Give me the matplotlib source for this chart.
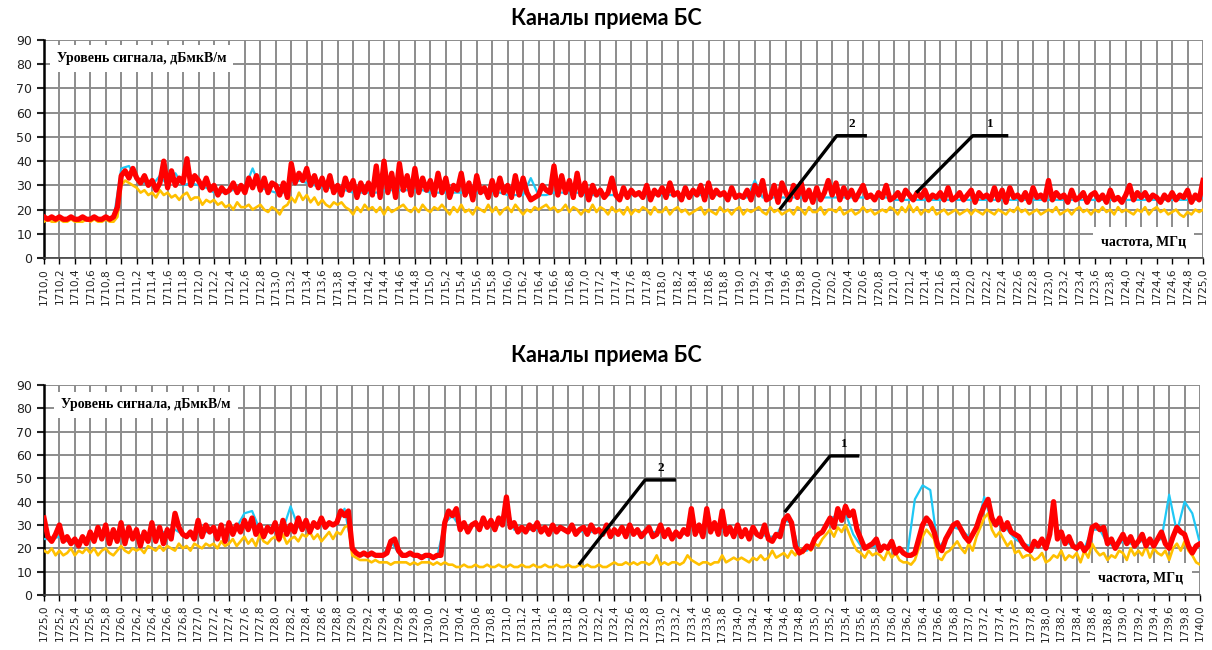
import numpy as np
import matplotlib
matplotlib.use("Agg")
import matplotlib.pyplot as plt

# Signal levels, dBuV/m
# red & yellow sampled every 0.05 MHz, cyan every 0.1 MHz

red_top = [
    17, 16, 17, 16, 17, 16, 16, 17, 16, 16, 17, 16, 16, 17, 16, 16, 17, 16, 17, 21,
    34, 36, 33, 37, 33, 31, 34, 30, 32, 28, 31, 40, 29, 36, 30, 33, 31, 41, 30, 34,
    32, 29, 33, 28, 30, 26, 29, 27, 28, 31, 27, 30, 27, 33, 29, 34, 28, 33, 27, 31,
    30, 26, 31, 25, 39, 31, 35, 32, 37, 30, 34, 29, 33, 28, 34, 27, 30, 26, 33, 28,
    32, 25, 31, 27, 31, 26, 38, 25, 40, 27, 35, 25, 39, 28, 34, 26, 37, 27, 33, 28,
    32, 26, 35, 27, 33, 25, 30, 28, 35, 26, 31, 24, 34, 27, 29, 25, 32, 26, 33, 27,
    30, 25, 34, 26, 33, 27, 24, 25, 26, 30, 28, 27, 38, 26, 34, 27, 32, 25, 35, 26,
    31, 24, 30, 26, 28, 25, 27, 33, 26, 24, 29, 25, 28, 26, 27, 25, 30, 24, 28, 26,
    29, 25, 31, 26, 27, 24, 29, 25, 28, 26, 30, 24, 31, 25, 28, 26, 27, 24, 29, 25,
    26, 25, 28, 24, 30, 26, 32, 24, 25, 30, 23, 31, 27, 24, 30, 25, 31, 24, 28, 23,
    29, 24, 27, 32, 26, 31, 24, 29, 25, 28, 24, 27, 30, 25, 26, 24, 27, 25, 30, 24,
    25, 27, 24, 28, 26, 24, 27, 25, 28, 24, 26, 25, 27, 24, 29, 24, 25, 27, 24, 26,
    28, 23, 27, 25, 26, 24, 29, 24, 28, 23, 29, 25, 26, 24, 27, 23, 29, 25, 26, 24,
    32, 24, 27, 25, 26, 23, 28, 24, 25, 27, 23, 26, 27, 24, 26, 23, 28, 24, 25, 23,
    26, 30, 24, 27, 25, 27, 24, 26, 25, 23, 26, 24, 27, 24, 26, 25, 28, 23, 26, 24,
    32,
]

yellow_top = [
    15, 16, 15, 15, 16, 15, 15, 16, 15, 15, 15, 16, 15, 16, 15, 15, 16, 15, 15, 17,
    30, 32, 31, 30, 29, 27, 28, 26, 27, 25, 28, 26, 27, 25, 26, 24, 26, 27, 24, 25,
    25, 22, 24, 23, 24, 22, 23, 21, 22, 20, 23, 21, 21, 22, 20, 21, 22, 20, 19, 21,
    20, 18, 21, 22, 25, 23, 27, 24, 26, 23, 25, 22, 24, 22, 21, 23, 22, 23, 21, 20,
    18, 21, 19, 22, 20, 21, 19, 21, 18, 21, 19, 20, 21, 22, 20, 19, 21, 19, 22, 20,
    19, 21, 20, 22, 20, 18, 21, 19, 22, 19, 20, 18, 21, 20, 19, 22, 19, 21, 18, 20,
    21, 19, 22, 20, 18, 20, 19, 21, 20, 21, 22, 20, 21, 19, 20, 22, 19, 21, 20, 18,
    20, 19, 22, 19, 21, 20, 18, 21, 19, 20, 18, 21, 18, 20, 19, 21, 20, 18, 21, 19,
    19, 21, 18, 20, 21, 19, 20, 18, 19, 20, 21, 18, 20, 19, 18, 21, 19, 20, 18, 20,
    21, 18, 20, 19, 20, 21, 19, 18, 21, 19, 20, 18, 19, 20, 18, 21, 20, 18, 21, 19,
    19, 21, 18, 20, 20, 19, 21, 18, 19, 20, 18, 19, 21, 19, 20, 18, 19, 20, 19, 21,
    20, 18, 21, 19, 22, 19, 21, 18, 20, 19, 21, 18, 19, 20, 18, 19, 20, 18, 19, 20,
    18, 20, 19, 18, 20, 19, 18, 20, 19, 18, 20, 19, 21, 19, 20, 18, 19, 20, 18, 19,
    20, 19, 21, 18, 19, 20, 18, 20, 21, 19, 20, 18, 20, 19, 21, 19, 20, 18, 21, 19,
    20, 19, 18, 20, 19, 21, 18, 20, 21, 19, 20, 18, 19, 20, 18, 17, 19, 18, 20, 19,
    20,
]

cyan_top = [
    16, 16, 16, 16, 16, 16, 16, 16, 16, 16,
    37, 38, 32, 31, 30, 34, 30, 35, 30, 31,
    30, 29, 27, 27, 28, 28, 29, 37, 29, 28,
    27, 27, 31, 32, 31, 30, 29, 29, 28, 28,
    27, 27, 27, 27, 28, 28, 28, 28, 28, 28,
    27, 27, 27, 27, 27, 27, 27, 27, 27, 27,
    26, 26, 26, 33, 26, 26, 27, 27, 27, 27,
    26, 26, 26, 26, 26, 26, 26, 26, 26, 26,
    26, 26, 26, 26, 26, 26, 26, 26, 26, 26,
    25, 25, 32, 25, 25, 25, 25, 25, 25, 25,
    25, 25, 25, 25, 25, 25, 25, 25, 25, 25,
    24, 24, 24, 24, 24, 24, 24, 24, 24, 24,
    24, 24, 24, 24, 24, 24, 24, 24, 24, 24,
    24, 24, 24, 24, 24, 24, 24, 24, 24, 24,
    24, 24, 24, 24, 24, 24, 24, 24, 24, 24,
    25,
]

red_bot = [
    33, 25, 23, 26, 30, 23, 25, 22, 24, 21, 25, 22, 27, 23, 29, 24, 30, 22, 28, 23,
    31, 22, 29, 24, 28, 21, 27, 23, 31, 23, 29, 22, 28, 24, 35, 29, 26, 25, 27, 24,
    32, 25, 30, 27, 29, 24, 30, 23, 31, 26, 30, 27, 32, 28, 33, 26, 30, 25, 29, 27,
    31, 24, 32, 26, 30, 27, 33, 28, 32, 27, 31, 29, 33, 29, 31, 30, 31, 36, 34, 36,
    20, 18, 17, 18, 17, 18, 17, 17, 17, 18, 23, 24, 19, 17, 17, 18, 17, 17, 16, 17,
    17, 16, 17, 17, 31, 36, 34, 37, 28, 31, 27, 30, 31, 28, 33, 29, 32, 28, 33, 30,
    42, 29, 31, 27, 29, 27, 30, 28, 31, 27, 29, 26, 30, 27, 29, 28, 27, 30, 26, 28,
    29, 26, 30, 27, 28, 26, 30, 25, 28, 26, 29, 25, 30, 26, 28, 25, 27, 29, 25, 26,
    30, 25, 28, 24, 27, 25, 28, 26, 37, 26, 30, 25, 37, 27, 31, 26, 36, 26, 29, 25,
    30, 25, 28, 24, 29, 26, 25, 30, 24, 23, 26, 25, 32, 34, 31, 21, 18, 19, 21, 20,
    24, 26, 27, 30, 33, 29, 37, 32, 38, 34, 36, 28, 24, 20, 21, 22, 24, 19, 21, 20,
    23, 18, 20, 18, 17, 17, 18, 24, 30, 33, 31, 27, 21, 19, 24, 27, 30, 31, 28, 25,
    23, 26, 29, 34, 38, 41, 33, 30, 33, 28, 31, 27, 26, 25, 22, 20, 19, 23, 21, 24,
    20, 26, 40, 24, 27, 22, 25, 21, 20, 22, 19, 21, 29, 30, 28, 29, 22, 24, 20, 23,
    26, 22, 25, 21, 23, 26, 21, 24, 21, 24, 27, 22, 20, 25, 29, 27, 26, 21, 18, 21,
    22,
]

yellow_bot = [
    19, 18, 20, 17, 19, 17, 18, 20, 17, 19, 18, 20, 18, 20, 17, 19, 20, 18, 17, 19,
    21, 19, 18, 20, 19, 20, 18, 21, 20, 19, 21, 19, 21, 20, 19, 22, 20, 21, 19, 22,
    21, 20, 22, 21, 22, 20, 23, 21, 22, 24, 21, 23, 25, 22, 24, 21, 26, 23, 22, 24,
    25, 23, 26, 22, 24, 25, 23, 26, 25, 27, 24, 26, 23, 25, 27, 24, 27, 26, 29, 30,
    17, 16, 15, 15, 15, 14, 15, 14, 14, 14, 13, 14, 14, 14, 14, 13, 14, 13, 14, 14,
    14, 13, 14, 13, 14, 13, 13, 12, 12, 13, 12, 12, 13, 12, 12, 13, 12, 12, 13, 12,
    12, 13, 12, 12, 13, 12, 12, 13, 12, 12, 13, 12, 12, 13, 12, 12, 13, 12, 12, 13,
    12, 13, 12, 12, 13, 12, 12, 13, 14, 13, 13, 14, 13, 14, 13, 14, 14, 13, 14, 17,
    13, 14, 13, 14, 14, 13, 14, 17, 15, 14, 13, 14, 14, 13, 14, 14, 17, 14, 15, 16,
    15, 16, 15, 14, 16, 15, 17, 15, 16, 19, 16, 17, 18, 16, 19, 17, 20, 18, 21, 19,
    22, 21, 24, 26, 28, 25, 29, 27, 30, 26, 22, 19, 18, 16, 19, 17, 18, 17, 15, 19,
    16, 18, 15, 14, 14, 13, 15, 20, 25, 28, 26, 24, 16, 15, 18, 19, 21, 23, 20, 18,
    22, 19, 25, 29, 33, 35, 28, 25, 27, 24, 21, 23, 18, 19, 16, 17, 17, 15, 16, 18,
    14, 15, 17, 16, 19, 15, 17, 16, 18, 14, 19, 16, 22, 19, 17, 18, 15, 17, 16, 19,
    18, 15, 20, 17, 19, 17, 21, 16, 20, 18, 17, 19, 15, 20, 22, 19, 23, 19, 17, 14,
    13,
]

cyan_bot = [
    24, 24, 25, 23, 23, 24, 25, 26, 25, 26,
    26, 25, 25, 26, 26, 27, 27, 28, 26, 26,
    27, 27, 27, 28, 28, 29, 35, 36, 28, 28,
    27, 28, 38, 29, 29, 30, 30, 31, 30, 37,
    19, 17, 17, 17, 17, 23, 18, 17, 17, 17,
    16, 16, 31, 34, 29, 29, 30, 30, 30, 30,
    38, 28, 28, 28, 28, 28, 28, 28, 28, 28,
    27, 27, 27, 27, 27, 27, 27, 27, 27, 27,
    27, 26, 26, 26, 30, 28, 30, 28, 28, 27,
    27, 27, 27, 26, 25, 25, 32, 31, 19, 19,
    24, 27, 33, 34, 35, 26, 21, 21, 21, 21,
    20, 19, 17, 41, 47, 45, 20, 24, 29, 28,
    25, 28, 42, 31, 30, 28, 24, 22, 21, 22,
    22, 31, 26, 22, 21, 20, 28, 28, 22, 21,
    23, 22, 23, 23, 23, 24, 43, 27, 40, 35,
    22,
]

# callout leaders: (x0, y0, xc, yc, x1, label)
callouts_top = [(1719.52, 20, 1720.26, 50.5, 1720.65, "2"),
                (1721.29, 27, 1722.02, 50.5, 1722.48, "1")]
callouts_bot = [(1731.94, 13, 1732.8, 49.3, 1733.2, "2"),
                (1734.61, 35.5, 1735.2, 59.6, 1735.58, "1")]

title = "Каналы приема БС"
ylab = "Уровень сигнала, дБмкВ/м"
xlab = "частота, МГц"

RED = "#ff0000"
YEL = "#ffc000"
CYAN = "#1fc8f5"
GRID = "#8c8c8c"


def panel(ax, f0, f1, red, yel, cyan, callouts, ylab_pos, xlab_pos):
    fr = np.linspace(f0, f1, len(red))
    fy = np.linspace(f0, f1, len(yel))
    fc = np.linspace(f0, f1, len(cyan))
    ax.plot(fc, cyan, color=CYAN, lw=1.6, zorder=3)
    ax.plot(fy, yel, color=YEL, lw=1.9, zorder=4)
    ax.plot(fr, red, color=RED, lw=3.8, zorder=5)

    ax.set_xlim(f0, f1)
    ax.set_ylim(0, 90)
    xt = np.round(np.arange(f0, f1 + 0.001, 0.2), 1)
    ax.set_xticks(xt)
    ax.set_xticklabels([f"{v:.1f}".replace(".", ",") for v in xt],
                       rotation=90, fontsize=7.6, family="DejaVu Sans",
                       color="#222222")
    ax.set_yticks(np.arange(0, 91, 10))
    ax.tick_params(axis="y", labelsize=9, length=5, width=1.5, colors="#222222")
    ax.tick_params(axis="x", length=4, width=1.0, pad=3)
    ax.grid(True, color=GRID, lw=1.4, zorder=0)
    ax.set_axisbelow(True)
    for s in ("top", "right"):
        ax.spines[s].set_visible(False)
    ax.spines["left"].set_linewidth(1.8)
    ax.spines["bottom"].set_linewidth(1.2)
    ax.spines["bottom"].set_color("#444444")

    for x0, y0, xc, yc, x1, lab in callouts:
        ax.plot([x0, xc, x1], [y0, yc, yc], color="black", lw=2.4,
                zorder=6, solid_capstyle="butt")
        ax.text((xc + x1) / 2, yc + 2.5, lab, fontsize=9.5, weight="bold",
                family="Liberation Serif", ha="center", va="bottom", zorder=7)

    ax.text(ylab_pos[0], ylab_pos[1], ylab, transform=ax.transAxes,
            fontsize=10, weight="bold", family="Liberation Serif",
            va="center", ha="left", zorder=8,
            bbox=dict(facecolor="white", edgecolor="none", pad=5))
    ax.text(xlab_pos[0], xlab_pos[1], xlab, transform=ax.transAxes,
            fontsize=10, weight="bold", family="Liberation Serif",
            va="center", ha="left", zorder=8,
            bbox=dict(facecolor="white", edgecolor="none", pad=6))


fig = plt.figure(figsize=(12.12, 6.5), dpi=100)
ax1 = fig.add_axes([0.0363, 0.603, 0.9563, 0.3355])
ax2 = fig.add_axes([0.0363, 0.0846, 0.9538, 0.3231])

panel(ax1, 1710.0, 1725.0, red_top, yellow_top, cyan_top, callouts_top,
      (0.011, 0.915), (0.912, 0.075))
panel(ax2, 1725.0, 1740.0, red_bot, yellow_bot, cyan_bot, callouts_bot,
      (0.015, 0.905), (0.912, 0.082))

fig.text(0.5, 0.972, title, ha="center", va="center", fontsize=15.5,
         weight="bold", family="Lato")
fig.text(0.5, 0.453, title, ha="center", va="center", fontsize=15.5,
         weight="bold", family="Lato")

fig.savefig("out.png", dpi=100)
